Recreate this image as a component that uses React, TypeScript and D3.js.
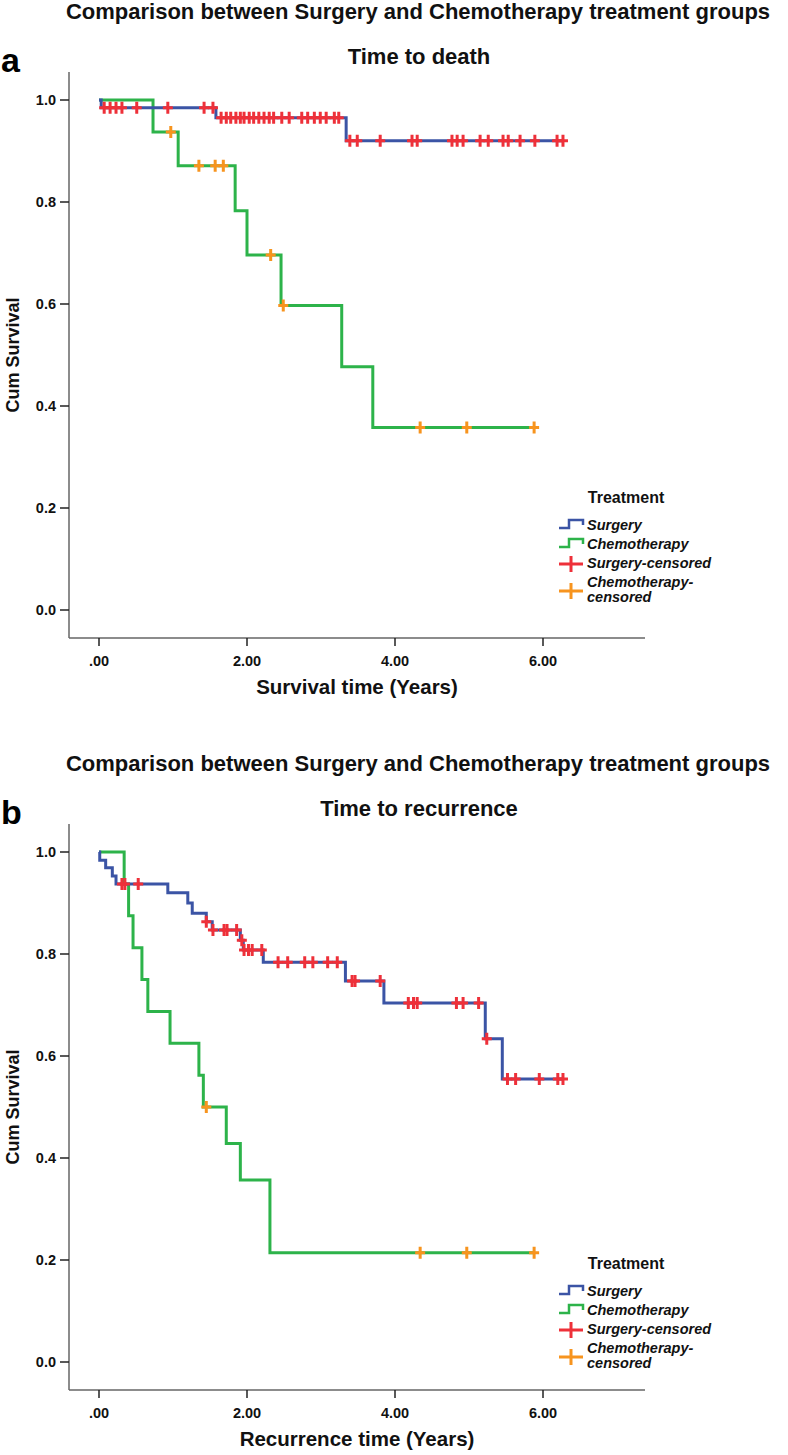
import React from 'react';
import * as d3 from 'd3';

// ---------- DATA ----------
const xTicks = [0, 2, 4, 6];
const xTickLabels = ['.00', '2.00', '4.00', '6.00'];
const yTicks = [0, 0.2, 0.4, 0.6, 0.8, 1.0];
const yTickLabels = ['0.0', '0.2', '0.4', '0.6', '0.8', '1.0'];
const legendItems = ['Surgery', 'Chemotherapy', 'Surgery-censored', 'Chemotherapy-censored'];

// Panel a: time to death
const deathSurgeryTimes = [0, 0.03, 1.58, 3.34];
const deathSurgeryLevels = [1, 0.985, 0.965, 0.92];
const deathSurgeryEnd = 6.27;
const deathSurgeryCensT = [0.07, 0.15, 0.23, 0.31, 0.51, 0.93, 1.42, 1.54,
  1.65, 1.72, 1.78, 1.85, 1.91, 1.96, 2.03, 2.09, 2.16, 2.23, 2.30, 2.36, 2.47, 2.57, 2.74, 2.82, 2.91, 2.99, 3.07, 3.18, 3.24,
  3.39, 3.49, 3.80, 4.23, 4.30, 4.77, 4.84, 4.92, 5.15, 5.26, 5.46, 5.53, 5.69, 5.89, 6.19, 6.27];
const deathSurgeryCensS = [0.985, 0.985, 0.985, 0.985, 0.985, 0.985, 0.985, 0.985,
  0.965, 0.965, 0.965, 0.965, 0.965, 0.965, 0.965, 0.965, 0.965, 0.965, 0.965, 0.965, 0.965, 0.965, 0.965, 0.965, 0.965, 0.965, 0.965, 0.965, 0.965,
  0.92, 0.92, 0.92, 0.92, 0.92, 0.92, 0.92, 0.92, 0.92, 0.92, 0.92, 0.92, 0.92, 0.92, 0.92, 0.92];

const deathChemoTimes = [0, 0.73, 1.07, 1.84, 2.0, 2.46, 3.28, 3.70];
const deathChemoLevels = [1, 0.9375, 0.871, 0.783, 0.696, 0.597, 0.477, 0.358];
const deathChemoEnd = 5.88;
const deathChemoCensT = [0.97, 1.35, 1.57, 1.68, 2.32, 2.49, 4.34, 4.97, 5.88];
const deathChemoCensS = [0.9375, 0.871, 0.871, 0.871, 0.696, 0.597, 0.358, 0.358, 0.358];

// Panel b: time to recurrence
const recSurgeryTimes = [0, 0.01, 0.09, 0.18, 0.23, 0.93, 1.20, 1.26, 1.45, 1.53, 1.91, 1.95, 2.22, 3.33, 3.85, 5.22, 5.45];
const recSurgeryLevels = [1, 0.984, 0.969, 0.953, 0.9375, 0.920, 0.900, 0.880, 0.863, 0.847, 0.827, 0.808, 0.784, 0.747, 0.704, 0.634, 0.555];
const recSurgeryEnd = 6.27;
const recSurgeryCensT = [0.31, 0.35, 0.53, 1.45, 1.54, 1.69, 1.73, 1.86, 1.93, 1.96, 2.02, 2.07, 2.20,
  2.42, 2.55, 2.78, 2.89, 3.09, 3.22, 3.42, 3.46, 3.80, 4.18, 4.25, 4.30, 4.83, 4.92, 5.13, 5.24,
  5.52, 5.63, 5.95, 6.20, 6.27];
const recSurgeryCensS = [0.9375, 0.9375, 0.9375, 0.863, 0.847, 0.847, 0.847, 0.847, 0.827, 0.808, 0.808, 0.808, 0.808,
  0.784, 0.784, 0.784, 0.784, 0.784, 0.784, 0.747, 0.747, 0.747, 0.704, 0.704, 0.704, 0.704, 0.704, 0.704, 0.634,
  0.555, 0.555, 0.555, 0.555, 0.555];

const recChemoTimes = [0, 0.34, 0.40, 0.46, 0.58, 0.66, 0.96, 1.35, 1.41, 1.72, 1.91, 2.31];
const recChemoLevels = [1, 0.9375, 0.875, 0.8125, 0.75, 0.6875, 0.625, 0.5625, 0.5, 0.4286, 0.357, 0.214];
const recChemoEnd = 5.88;
const recChemoCensT = [1.45, 4.34, 4.97, 5.88];
const recChemoCensS = [0.5, 0.214, 0.214, 0.214];

// ---------- STYLE ----------
const BLUE = '#3B54A5';
const GREEN = '#2DB34A';
const RED = '#EE3039';
const ORANGE = '#F7941E';
const ARIAL = "'Liberation Sans', Arial, sans-serif";

const W = 788;
const H = 1455;

function stepPoints(times: number[], levels: number[], end: number): [number, number][] {
  const pts: [number, number][] = times.map((t, i) => [t, levels[i]] as [number, number]);
  pts.push([end, levels[levels.length - 1]]);
  return pts;
}

type PanelProps = {
  off: number;
  legendOff: number;
  letter: string;
  subtitle: string;
  xLabel: string;
  sTimes: number[]; sLevels: number[]; sEnd: number; sCT: number[]; sCS: number[];
  cTimes: number[]; cLevels: number[]; cEnd: number; cCT: number[]; cCS: number[];
};

function Plus({ x, y, color, w = 5, h = 6, sw = 3 }: { x: number; y: number; color: string; w?: number; h?: number; sw?: number }) {
  return (
    <path d={`M${x - w},${y}H${x + w}M${x},${y - h}V${y + h}`} stroke={color} strokeWidth={sw} fill="none" />
  );
}

function Panel(p: PanelProps) {
  const x = d3.scaleLinear().domain([0, 6]).range([99, 543]);
  const y = d3.scaleLinear().domain([0, 1]).range([p.off + 610, p.off + 100]);
  const line = d3.line<[number, number]>().x(d => x(d[0])).y(d => y(d[1])).curve(d3.curveStepAfter);
  const axisTop = p.off + 72;
  const axisBottom = p.off + 638;
  const axisLeft = 69;
  const axisRight = 645;
  const lx = 559;
  const ly = p.off + p.legendOff;
  const legText = { fontFamily: ARIAL, fontWeight: 'bold' as const, fontStyle: 'italic' as const, fontSize: 14.5, fill: '#111' };
  return (
    <g>
      <text x={418} y={p.off + 19} textAnchor="middle" fontFamily={ARIAL} fontWeight="bold" fontSize={22} fill="#111">
        Comparison between Surgery and Chemotherapy treatment groups
      </text>
      <text x={1} y={p.off + 72} fontFamily={ARIAL} fontWeight="bold" fontSize={34} fill="#000">{p.letter}</text>
      <text x={419} y={p.off + 64} textAnchor="middle" fontFamily={ARIAL} fontWeight="bold" fontSize={22} fill="#111">{p.subtitle}</text>

      {/* axes */}
      <line x1={axisLeft} x2={axisLeft} y1={axisTop} y2={axisBottom} stroke="#666" strokeWidth={1.5} />
      <line x1={axisLeft} x2={axisRight} y1={axisBottom} y2={axisBottom} stroke="#666" strokeWidth={1.5} />
      {yTicks.map((t, i) => (
        <g key={'y' + i}>
          <line x1={axisLeft - 9} x2={axisLeft} y1={y(t)} y2={y(t)} stroke="#222" strokeWidth={1.5} />
          <text x={axisLeft - 13} y={y(t) + 5} textAnchor="end" fontFamily={ARIAL} fontWeight="bold" fontSize={14.5} fill="#111">{yTickLabels[i]}</text>
        </g>
      ))}
      {xTicks.map((t, i) => (
        <g key={'x' + i}>
          <line x1={x(t)} x2={x(t)} y1={axisBottom} y2={axisBottom + 8} stroke="#222" strokeWidth={1.5} />
          <text x={x(t)} y={axisBottom + 28} textAnchor="middle" fontFamily={ARIAL} fontWeight="bold" fontSize={14.5} fill="#111">{xTickLabels[i]}</text>
        </g>
      ))}
      <text x={357} y={axisBottom + 56} textAnchor="middle" fontFamily={ARIAL} fontWeight="bold" fontSize={20.5} fill="#111">{p.xLabel}</text>
      <text transform={`translate(19,${(axisTop + axisBottom) / 2}) rotate(-90)`} textAnchor="middle" fontFamily={ARIAL} fontWeight="bold" fontSize={18} fill="#111">Cum Survival</text>

      {/* curves */}
      <path d={line(stepPoints(p.cTimes, p.cLevels, p.cEnd)) || ''} stroke={GREEN} strokeWidth={3} fill="none" />
      <path d={line(stepPoints(p.sTimes, p.sLevels, p.sEnd)) || ''} stroke={BLUE} strokeWidth={3} fill="none" />
      {p.sCT.map((t, i) => <Plus key={'sc' + i} x={x(t)} y={y(p.sCS[i])} color={RED} />)}
      {p.cCT.map((t, i) => <Plus key={'cc' + i} x={x(t)} y={y(p.cCS[i])} color={ORANGE} />)}

      {/* legend */}
      <text x={626} y={ly} textAnchor="middle" fontFamily={ARIAL} fontWeight="bold" fontSize={16} fill="#111">Treatment</text>
      <path d={`M${lx},${ly + 25}H${lx + 10}V${ly + 17}H${lx + 24}V${ly + 22}`} stroke={BLUE} strokeWidth={2.5} fill="none" />
      <path d={`M${lx},${ly + 44}H${lx + 10}V${ly + 36}H${lx + 24}V${ly + 41}`} stroke={GREEN} strokeWidth={2.5} fill="none" />
      <Plus x={lx + 12} y={ly + 61} color={RED} w={12} h={8} sw={3} />
      <Plus x={lx + 12} y={ly + 88} color={ORANGE} w={12} h={8} sw={3} />
      {[0, 1, 2].map(i => (
        <text key={'lt' + i} x={lx + 28} y={ly + 27 + i * 19} {...legText}>{legendItems[i]}</text>
      ))}
      <text x={lx + 28} y={ly + 84} {...legText}>Chemotherapy-</text>
      <text x={lx + 28} y={ly + 99} {...legText}>censored</text>
    </g>
  );
}

export default function App() {
  return (
    <svg width={W} height={H} viewBox={`0 0 ${W} ${H}`} style={{ position: 'absolute', left: 0, top: 0, background: '#fff' }}>
      <rect x={0} y={0} width={W} height={H} fill="#fff" />
      <Panel off={0} legendOff={503} letter="a" subtitle="Time to death" xLabel="Survival time (Years)"
        sTimes={deathSurgeryTimes} sLevels={deathSurgeryLevels} sEnd={deathSurgeryEnd} sCT={deathSurgeryCensT} sCS={deathSurgeryCensS}
        cTimes={deathChemoTimes} cLevels={deathChemoLevels} cEnd={deathChemoEnd} cCT={deathChemoCensT} cCS={deathChemoCensS} />
      <Panel off={752} legendOff={517} letter="b" subtitle="Time to recurrence" xLabel="Recurrence time (Years)"
        sTimes={recSurgeryTimes} sLevels={recSurgeryLevels} sEnd={recSurgeryEnd} sCT={recSurgeryCensT} sCS={recSurgeryCensS}
        cTimes={recChemoTimes} cLevels={recChemoLevels} cEnd={recChemoEnd} cCT={recChemoCensT} cCS={recChemoCensS} />
    </svg>
  );
}
